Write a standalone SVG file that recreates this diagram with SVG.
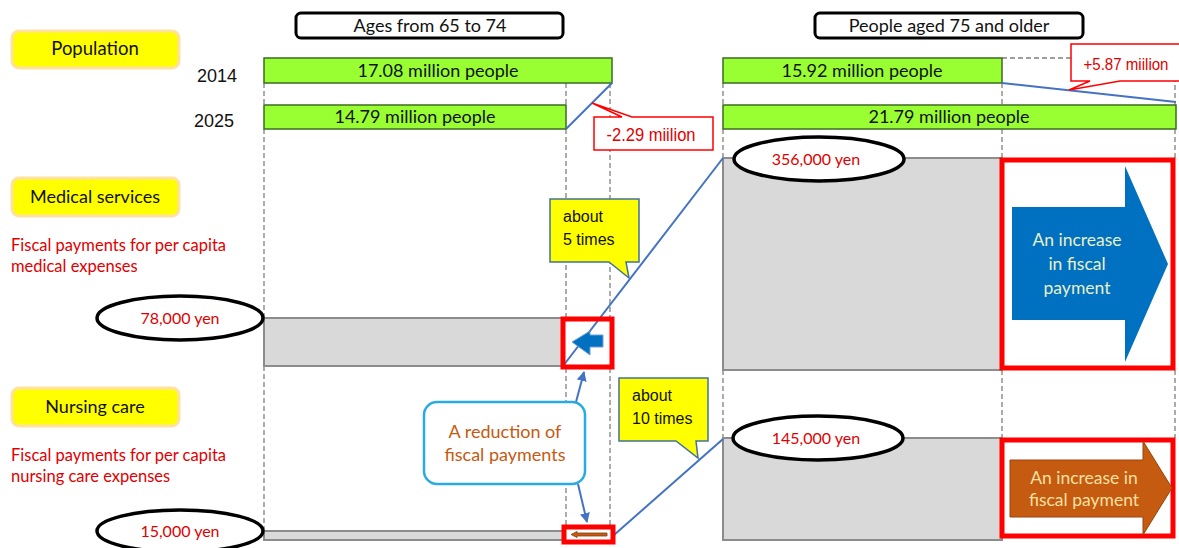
<svg xmlns="http://www.w3.org/2000/svg" width="1179" height="548" viewBox="0 0 1179 548">
<style>
.t{font-family:Lato,"Open Sans",sans-serif;}
.a{font-family:"Liberation Sans",Arial,sans-serif;}
.cat{fill:#ffff00;stroke:#ffe2a0;stroke-width:3;}
.hdr{fill:#fff;stroke:#000;stroke-width:3;}
.bar{fill:#99ff33;stroke:#3d6b22;stroke-width:1.5;}
.dash{stroke:#808080;stroke-width:1.3;stroke-dasharray:5,3;fill:none;}
.gray{fill:#d9d9d9;stroke:#8c8c8c;stroke-width:2;}
.red{fill:none;stroke:#ff0000;stroke-width:5;}
.ell{fill:#fff;stroke:#000;stroke-width:3.5;}
.yen{fill:#e00000;font-size:16px;}
.blue{stroke:#4472c4;stroke-width:2;fill:none;}
.call{fill:#ffff00;stroke:#41719c;stroke-width:1.5;}
.rcall{fill:#fff;stroke:#ff0000;stroke-width:1.5;}
</style>
<defs>
<marker id="ah" viewBox="0 0 10 10" refX="9" refY="5" markerWidth="5" markerHeight="5" orient="auto-start-reverse"><path d="M0,0 L10,5 L0,10 z" fill="#4472c4"/></marker>
</defs>

<!-- dashed guides -->
<g id="guides">
<path class="dash" d="M264,83 V105 M264,129 V318 M264,366 V530"/>
<path class="dash" d="M566,83 V105 M566,129 V318 M566,368 V526"/>
<path class="dash" d="M610,83 V317 M610,368 V526"/>
<path class="dash" d="M723,83 V105 M723,129 V158 M723,370 V438"/>
<path class="dash" d="M1002,83 V105 M1002,129 V158 M1002,370 V438"/>
<path class="dash" d="M1002,58 H1175 V105 M1175,129 V158 M1175,370 V438"/>
</g>

<!-- category labels -->
<g id="cat-population"><rect class="cat" x="12" y="31" width="167" height="37" rx="7"/><text class="t" x="95" y="55" font-size="18.5" text-anchor="middle" fill="#111">Population</text></g>
<g id="cat-medical"><rect class="cat" x="12" y="178" width="167" height="38" rx="7"/><text class="t" x="95" y="203" font-size="18" text-anchor="middle" fill="#111">Medical services</text></g>
<g id="cat-nursing"><rect class="cat" x="12" y="388" width="167" height="38" rx="7"/><text class="t" x="95" y="413" font-size="18" text-anchor="middle" fill="#111">Nursing care</text></g>
<g id="desc-medical" class="t" fill="#e00000" font-size="16.5"><text x="11" y="251">Fiscal payments for per capita</text><text x="11" y="272">medical expenses</text></g>
<g id="desc-nursing" class="t" fill="#e00000" font-size="16.5"><text x="11" y="461">Fiscal payments for per capita</text><text x="11" y="482">nursing care expenses</text></g>

<!-- headers -->
<g id="hdr-young"><rect class="hdr" x="296" y="13" width="267" height="25" rx="5"/><text class="t" x="430" y="32" font-size="18" text-anchor="middle" fill="#111">Ages from 65 to 74</text></g>
<g id="hdr-old"><rect class="hdr" x="815" y="13" width="268" height="25" rx="5"/><text class="t" x="949" y="32" font-size="18" text-anchor="middle" fill="#111">People aged 75 and older</text></g>

<!-- years -->
<g id="years" class="a" font-size="18" fill="#111"><text x="197" y="82">2014</text><text x="194" y="127">2025</text></g>

<!-- population bars -->
<g id="pop-young-2014"><rect class="bar" x="264" y="58" width="348" height="25"/><text class="t" x="438" y="77" font-size="18" text-anchor="middle" fill="#111">17.08 million people</text></g>
<g id="pop-young-2025"><rect class="bar" x="264" y="105" width="302" height="24"/><text class="t" x="415" y="123" font-size="18" text-anchor="middle" fill="#111">14.79 million people</text></g>
<g id="pop-old-2014"><rect class="bar" x="723" y="58" width="279" height="25"/><text class="t" x="862" y="77" font-size="18" text-anchor="middle" fill="#111">15.92 million people</text></g>
<g id="pop-old-2025"><rect class="bar" x="723" y="105" width="453" height="24"/><text class="t" x="949" y="123" font-size="18" text-anchor="middle" fill="#111">21.79 million people</text></g>

<!-- gray expense bars -->
<g id="med-young"><rect class="gray" x="264" y="318" width="299" height="48"/></g>
<g id="med-old"><rect class="gray" x="723" y="158" width="279" height="212"/></g>
<g id="nur-young"><rect class="gray" x="264" y="531" width="299" height="9"/></g>
<g id="nur-old"><rect class="gray" x="723" y="438" width="279" height="102"/></g>

<!-- connectors -->
<g id="connectors">
<line class="blue" x1="566" y1="129" x2="612" y2="83"/>
<line class="blue" x1="1002" y1="83" x2="1176" y2="102"/>
<line class="blue" x1="723" y1="158" x2="563" y2="366"/>
<line class="blue" x1="723" y1="439" x2="614" y2="535"/>
<line class="blue" x1="576" y1="402" x2="584" y2="372" marker-end="url(#ah)"/>
<line class="blue" x1="578" y1="484" x2="587" y2="522" marker-end="url(#ah)"/>
</g>

<!-- red highlight boxes and arrows -->
<g id="hl-med-young"><rect class="red" x="563" y="319" width="49" height="48"/><path d="M572,342 L590,331 V335 H603 V347 H590 V355 Z" fill="#0070c0" stroke="#6fa0d8" stroke-width="1"/></g>
<g id="hl-nur-young"><rect class="red" x="564" y="527" width="49" height="15" stroke-width="4"/><path d="M571,534.5 L577,531.5 V533 H607 V536 H577 V537.5 Z" fill="#c55a11" stroke="#843c0c" stroke-width="0.8"/></g>
<g id="hl-med-old"><rect class="red" x="1002" y="160" width="171" height="208"/><path d="M1012,207 H1125 V166 L1168,264 L1125,362 V320 H1012 Z" fill="#0070c0"/><g class="t" font-size="17.5" fill="#e8f0c8" text-anchor="middle"><text x="1077" y="246">An increase</text><text x="1077" y="270">in fiscal</text><text x="1077" y="294">payment</text></g></g>
<g id="hl-nur-old"><rect class="red" x="1002" y="440" width="171" height="96"/><path d="M1010,460 H1143 V441 L1172,488 L1143,535 V517 H1010 Z" fill="#c55a11" stroke="#9c4510" stroke-width="1"/><g class="t" font-size="17.5" fill="#f8e0a0" text-anchor="middle"><text x="1084" y="484">An increase in</text><text x="1084" y="506">fiscal payment</text></g></g>

<!-- ellipses -->
<g id="yen-78"><ellipse class="ell" cx="180" cy="318" rx="83" ry="22"/><text class="t yen" x="180" y="324" text-anchor="middle">78,000 yen</text></g>
<g id="yen-15"><ellipse class="ell" cx="180" cy="531" rx="83" ry="21"/><text class="t yen" x="180" y="537" text-anchor="middle">15,000 yen</text></g>
<g id="yen-356"><ellipse class="ell" cx="819" cy="159" rx="85" ry="22"/><text class="t yen" x="816" y="165" text-anchor="middle">356,000 yen</text></g>
<g id="yen-145"><ellipse class="ell" cx="818" cy="438" rx="85" ry="22"/><text class="t yen" x="816" y="444" text-anchor="middle">145,000 yen</text></g>

<!-- callouts -->
<g id="call-229"><path class="rcall" d="M594,117 H622 L592,103 L632,117 H713 V150 H594 Z"/><text class="a" x="651" y="141" font-size="17.5" fill="#e00000" text-anchor="middle" textLength="89" lengthAdjust="spacingAndGlyphs">-2.29 miilion</text></g>
<g id="call-587"><path class="rcall" d="M1071,44 H1181 V81 H1120 L1069,90 L1090,81 H1071 Z"/><text class="a" x="1126" y="70" font-size="17" fill="#e00000" text-anchor="middle" textLength="85" lengthAdjust="spacingAndGlyphs">+5.87 miilion</text></g>
<g id="call-5"><path class="call" d="M550,199 H639 V262 H626 L629,278 L609,262 H550 Z"/><g class="a" font-size="16" fill="#111"><text x="563" y="222">about</text><text x="563" y="245">5 times</text></g></g>
<g id="call-10"><path class="call" d="M619,378 H708 V441 H696 L698,458 L676,441 H619 Z"/><g class="a" font-size="16" fill="#111"><text x="632" y="401">about</text><text x="632" y="424">10 times</text></g></g>
<g id="reduction"><rect x="424" y="402" width="161" height="82" rx="13" fill="#fff" stroke="#29abe2" stroke-width="2.5"/><g class="t" font-size="18" fill="#c55a11" text-anchor="middle"><text x="505" y="438">A reduction of</text><text x="505" y="461">fiscal payments</text></g></g>
</svg>
